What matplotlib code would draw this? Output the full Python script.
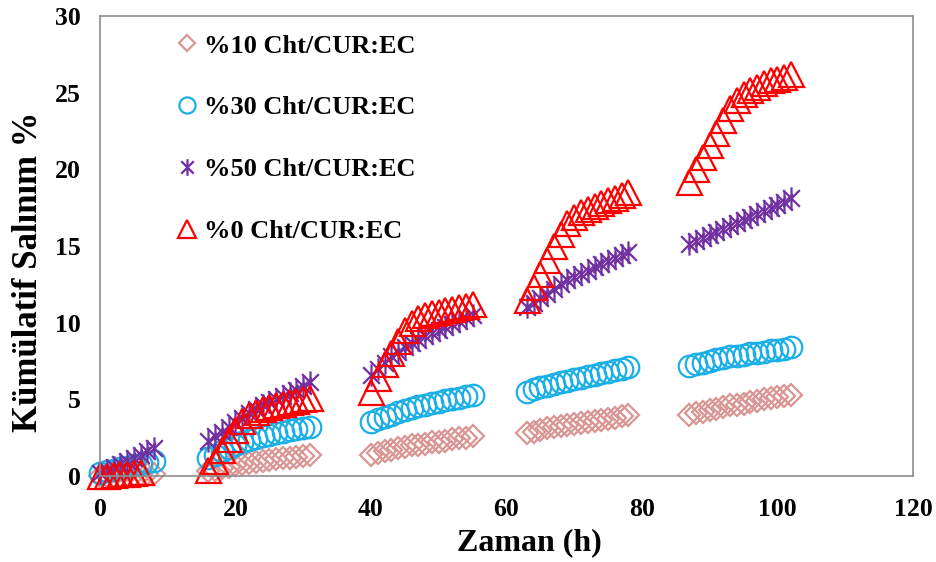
import matplotlib.pyplot as plt
import numpy as np
from matplotlib.path import Path

plt.rcParams['font.family'] = ['Liberation Serif', 'DejaVu Serif']
plt.rcParams['font.weight'] = 'bold'

# sampling times (h), five release sessions
time_h = (list(range(0, 9)) + list(range(16, 32)) + list(range(40, 56))
          + list(range(63, 79)) + list(range(87, 103)))

cht10 = [0.0, 0.0, 0.0, 0.0, 0.05, 0.05, 0.1, 0.1, 0.1,
         0.3, 0.4, 0.5, 0.6, 0.7, 0.8, 0.85, 0.9, 1.0, 1.05, 1.1, 1.15, 1.2, 1.25, 1.3, 1.4,
         1.4, 1.5, 1.6, 1.7, 1.8, 1.9, 2.0, 2.05, 2.1, 2.2, 2.25, 2.3, 2.4, 2.45, 2.5, 2.6,
         2.8, 2.9, 3.0, 3.1, 3.2, 3.25, 3.3, 3.4, 3.45, 3.5, 3.6, 3.65, 3.7, 3.8, 3.9, 4.0,
         4.0, 4.1, 4.2, 4.3, 4.4, 4.5, 4.6, 4.65, 4.7, 4.8, 4.9, 5.0, 5.1, 5.15, 5.2, 5.3]

cht30 = [0.2, 0.3, 0.4, 0.5, 0.6, 0.7, 0.8, 0.9, 1.0,
         1.2, 1.4, 1.6, 1.8, 2.0, 2.2, 2.35, 2.5, 2.6, 2.7, 2.8, 2.9, 3.0, 3.05, 3.1, 3.2,
         3.5, 3.7, 3.85, 4.0, 4.15, 4.3, 4.45, 4.55, 4.65, 4.75, 4.85, 4.95, 5.05, 5.1, 5.2, 5.3,
         5.5, 5.65, 5.8, 5.9, 6.0, 6.1, 6.2, 6.3, 6.4, 6.5, 6.6, 6.7, 6.8, 6.9, 7.0, 7.1,
         7.2, 7.3, 7.4, 7.5, 7.6, 7.7, 7.8, 7.85, 7.9, 8.0, 8.05, 8.1, 8.2, 8.25, 8.3, 8.4]

cht50 = [0.2, 0.4, 0.6, 0.8, 1.0, 1.2, 1.4, 1.6, 1.8,
         2.3, 2.6, 2.9, 3.2, 3.5, 3.8, 4.1, 4.35, 4.6, 4.8, 5.0, 5.2, 5.4, 5.6, 5.85, 6.1,
         6.6, 7.0, 7.4, 7.8, 8.1, 8.4, 8.7, 8.9, 9.1, 9.3, 9.5, 9.7, 9.9, 10.1, 10.3, 10.5,
         11.0, 11.3, 11.6, 11.9, 12.2, 12.5, 12.8, 13.0, 13.2, 13.4, 13.6, 13.8, 14.0, 14.2, 14.4, 14.6,
         15.1, 15.3, 15.5, 15.7, 15.9, 16.1, 16.3, 16.5, 16.7, 16.9, 17.1, 17.3, 17.5, 17.7, 17.9, 18.1]

cht0 = [0.0, 0.0, 0.05, 0.1, 0.15, 0.2, 0.25, np.nan, np.nan,
        0.4, 1.0, 1.7, 2.4, 3.0, 3.6, 4.0, 4.2, 4.4, 4.5, 4.6, 4.7, 4.8, 4.9, 5.0, 5.1,
        5.5, 6.4, 7.3, 8.0, 8.8, 9.5, 10.0, 10.3, 10.5, 10.6, 10.7, 10.8, 10.9, 11.0, 11.1, 11.2,
        11.5, 12.3, 13.2, 14.1, 15.0, 15.8, 16.5, 16.9, 17.2, 17.4, 17.6, 17.8, 18.0, 18.1, 18.3, 18.5,
        19.2, 20.0, 20.8, 21.6, 22.4, 23.2, 24.0, 24.5, 24.9, 25.2, 25.4, 25.6, 25.8, 25.9, 26.0, 26.2]

labels = ['%10 Cht/CUR:EC', '%30 Cht/CUR:EC', '%50 Cht/CUR:EC', '%0 Cht/CUR:EC']

# asterisk: vertical bar plus an X
star = Path([(0, -1), (0, 1), (-0.75, -0.75), (0.75, 0.75), (-0.75, 0.75), (0.75, -0.75)],
            [Path.MOVETO, Path.LINETO, Path.MOVETO, Path.LINETO, Path.MOVETO, Path.LINETO])

fig = plt.figure(figsize=(9.36, 5.62), dpi=100)
ax = fig.add_axes([0.1068, 0.153, 0.8686, 0.8185])

styles = [
    (cht10, 'D', 11, '#D99694'),
    (cht30, 'o', 15.5, '#1AAFE6'),
    (cht50, star, 16, '#7030A0'),
    (cht0, '^', 18, '#FF0000'),
]
for (vals, mk, ms, col), lab in zip(styles, labels):
    ax.plot(time_h, vals, linestyle='none', marker=mk, markersize=ms,
            markerfacecolor='none', markeredgecolor=col, markeredgewidth=1.6,
            label=lab, clip_on=False)

ax.set_xlim(0, 120)
ax.set_ylim(0, 30)
ax.set_xticks(range(0, 121, 20))
ax.set_yticks(range(0, 31, 5))
ax.tick_params(length=0, labelsize=18.5)
ax.tick_params(axis='y', pad=14)
ax.tick_params(axis='x', pad=16)
for s in ax.spines.values():
    s.set_color('#8C8C8C')
    s.set_linewidth(1.2)

ax.set_xlabel('Zaman (h)', fontsize=23, fontweight='bold')
ax.set_ylabel('Kümülatif Salınım %', fontsize=25, fontweight='bold')
ax.xaxis.set_label_coords(0.528, -0.113)
ax.yaxis.set_label_coords(-0.067, 0.443)

ax.legend(loc='upper left', bbox_to_anchor=(0.068, 1.012), frameon=False,
          fontsize=19, markerscale=0.75, labelspacing=1.45, handlelength=0.6,
          handletextpad=0.35)

fig.savefig('out.png', dpi=100)
